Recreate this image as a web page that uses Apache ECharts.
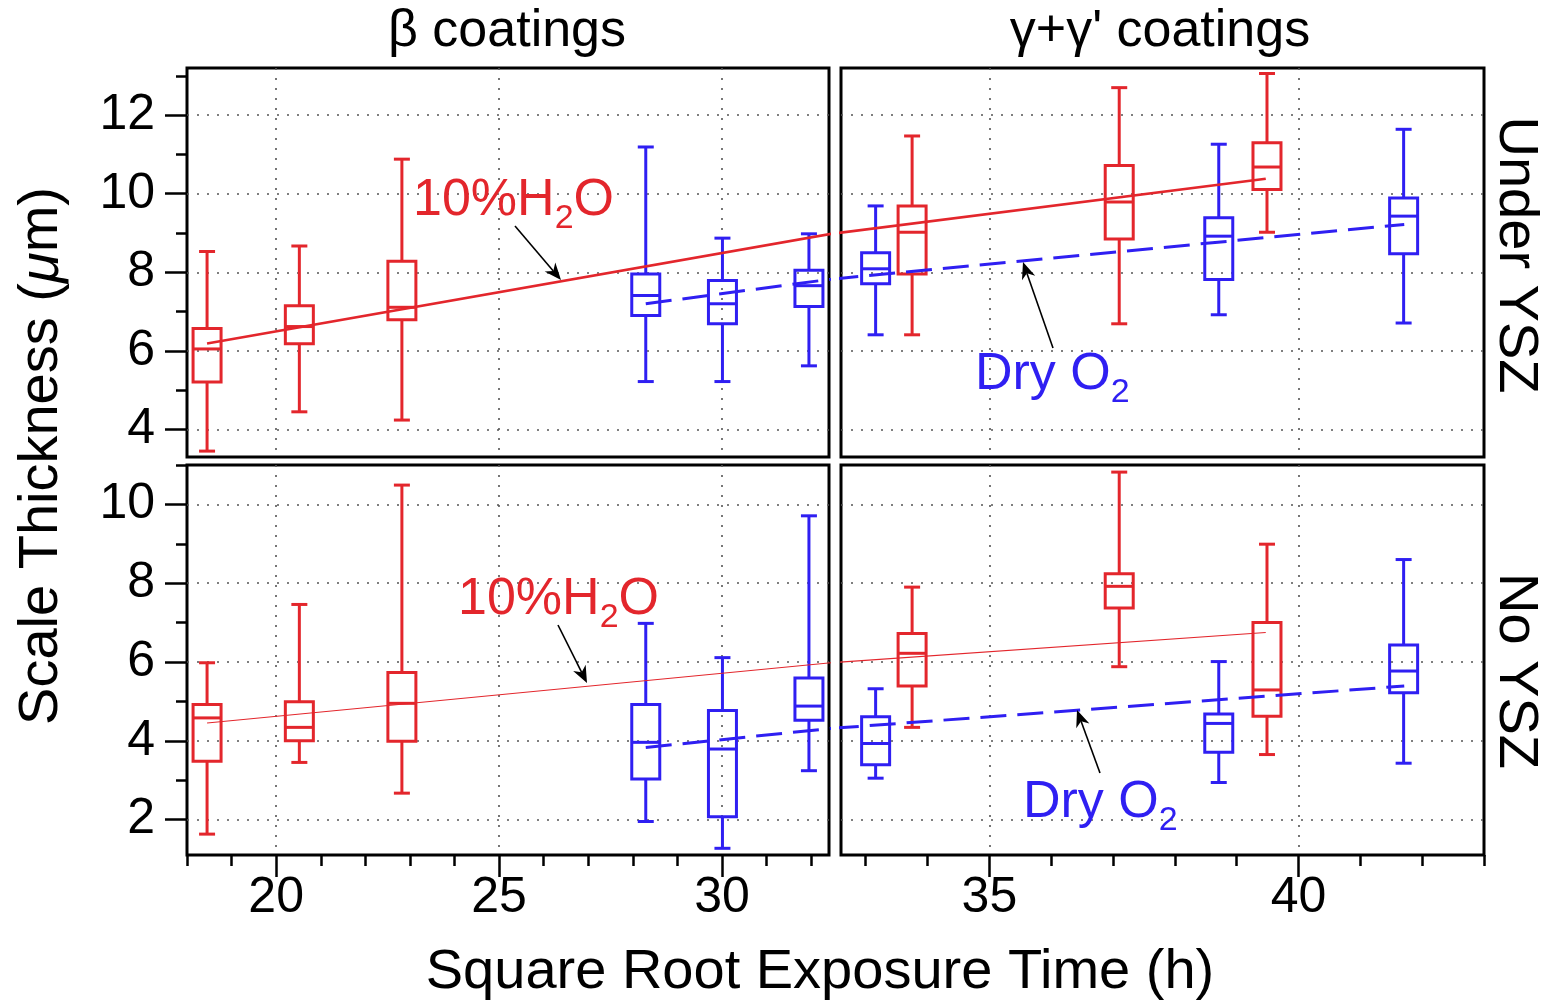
<!DOCTYPE html>
<html><head><meta charset="utf-8">
<script src="https://cdn.jsdelivr.net/npm/echarts@6/dist/echarts.min.js"></script>
<style>html,body{margin:0;padding:0;background:#fff}#c{width:1549px;height:1003px}</style>
</head><body><div id="c"></div>
<script>
const RED = '#e3262c', BLUE = '#2f1ff2';
const FONT = '"Liberation Sans", Arial, Helvetica, sans-serif';
// box values: [x, min, q1, median, q3, max]
const h2oUnderBeta  = [[18.45,3.45,5.21,6.05,6.57,8.53],[20.52,4.45,6.18,6.62,7.15,8.67],[22.82,4.24,6.79,7.11,8.28,10.88]];
const dryUnderBeta  = [[28.29,5.22,6.90,7.41,7.96,11.19],[30.01,5.22,6.69,7.20,7.79,8.87],[31.95,5.62,7.13,7.66,8.05,8.98]];
const h2oUnderGamma = [[33.75,6.41,7.96,9.02,9.69,11.47],[37.10,6.69,8.85,9.79,10.72,12.70],[39.49,9.02,10.11,10.68,11.30,13.06]];
const dryUnderGamma = [[33.16,6.41,7.71,8.09,8.50,9.69],[38.71,6.92,7.82,8.92,9.39,11.26],[41.70,6.71,8.47,9.43,9.89,11.64]];
const h2oNoBeta  = [[18.45,1.63,3.48,4.58,4.92,5.98],[20.52,3.45,4.00,4.34,4.99,7.46],[22.82,2.67,3.99,4.95,5.73,10.49]];
const dryNoBeta  = [[28.29,1.95,3.03,3.96,4.92,6.98],[30.01,1.27,2.07,3.79,4.77,6.11],[31.95,3.24,4.52,4.88,5.59,9.71]];
const h2oNoGamma = [[33.75,4.34,5.39,6.22,6.72,7.90],[37.10,5.88,7.37,7.92,8.24,10.82],[39.49,3.65,4.62,5.29,7.00,8.99]];
const dryNoGamma = [[33.16,3.05,3.39,3.93,4.61,5.32],[38.71,2.94,3.71,4.44,4.68,6.01],[41.70,3.43,5.22,5.77,6.43,8.60]];
// fitted trend lines (end points)
const h2oUnderFit = [[18.45,6.19],[39.47,10.38]];
const dryUnderFit = [[28.29,7.20],[41.71,9.22]];
const h2oNoFit    = [[18.45,4.45],[39.47,6.75]];
const dryNoFit    = [[28.29,3.83],[41.71,5.39]];
// axis ranges and ticks
const xBetaRange = [18, 32.4], xGammaRange = [32.6, 43];
const yUnderRange = [3.3, 13.2], yNoRange = [1.1, 11];
const xBetaMajor = [20, 25, 30], xBetaMinor = [18, 19, 21, 22, 23, 24, 26, 27, 28, 29, 31, 32];
const xGammaMajor = [35, 40], xGammaMinor = [33, 34, 36, 37, 38, 39, 41, 42, 43];
const yUnderMajor = [4, 6, 8, 10, 12], yUnderMinor = [5, 7, 9, 11, 13];
const yNoMajor = [2, 4, 6, 8, 10], yNoMinor = [3, 5, 7, 9, 11];

const chart = echarts.init(document.getElementById('c'), null, {renderer: 'canvas'});

const grids = [
  {left: 187, top: 68, width: 642, height: 389},
  {left: 841, top: 68, width: 643, height: 389},
  {left: 187, top: 465, width: 642, height: 390},
  {left: 841, top: 465, width: 643, height: 390}
].map(g => Object.assign(g, {show: true, borderColor: '#000', borderWidth: 3, backgroundColor: 'rgba(0,0,0,0)'}));

const splitStyle = {show: true, lineStyle: {color: '#555', width: 1.6, type: [2, 8]}};
function axisPair(dim, gi, range, major, minor, showTicks) {
  const pos = dim === 'x' ? 'bottom' : 'left';
  const main = {
    type: 'value', gridIndex: gi, min: range[0], max: range[1], position: pos,
    axisLine: {show: false},
    axisTick: {show: showTicks, customValues: major, length: 22, inside: false, lineStyle: {color: '#000', width: 2.5}},
    axisLabel: {show: showTicks, customValues: major, fontSize: 50, color: '#000', fontFamily: FONT,
      margin: dim === 'x' ? 18 : 32},
    splitLine: splitStyle, minorTick: {show: false}
  };
  const mnr = {
    type: 'value', gridIndex: gi, min: range[0], max: range[1], position: pos,
    axisLine: {show: false},
    axisTick: {show: showTicks, customValues: minor, length: 11, inside: false, lineStyle: {color: '#000', width: 2.5}},
    axisLabel: {show: false}, splitLine: {show: false}
  };
  return [main, mnr];
}
const xAxis = [].concat(
  axisPair('x', 0, xBetaRange, xBetaMajor, xBetaMinor, false),
  axisPair('x', 1, xGammaRange, xGammaMajor, xGammaMinor, false),
  axisPair('x', 2, xBetaRange, xBetaMajor, xBetaMinor, true),
  axisPair('x', 3, xGammaRange, xGammaMajor, xGammaMinor, true)
);
const yAxis = [].concat(
  axisPair('y', 0, yUnderRange, yUnderMajor, yUnderMinor, true),
  axisPair('y', 1, yUnderRange, yUnderMajor, yUnderMinor, false),
  axisPair('y', 2, yNoRange, yNoMajor, yNoMinor, true),
  axisPair('y', 3, yNoRange, yNoMajor, yNoMinor, false)
);

function boxSeries(data, color, gi) {
  return {
    type: 'custom', xAxisIndex: gi * 2, yAxisIndex: gi * 2, data: data, clip: false, silent: true, z: 3,
    encode: {x: 0, y: [1, 2, 3, 4, 5]},
    renderItem: function (params, api) {
      const x = api.value(0);
      const p = i => api.coord([x, api.value(i)]);
      const pMin = p(1), pQ1 = p(2), pMed = p(3), pQ3 = p(4), pMax = p(5);
      const cx = pMin[0], bw = 28, cw = 16;
      const st = {stroke: color, lineWidth: 3, fill: null};
      return {type: 'group', children: [
        {type: 'line', shape: {x1: cx, y1: pMax[1], x2: cx, y2: pQ3[1]}, style: st},
        {type: 'line', shape: {x1: cx, y1: pQ1[1], x2: cx, y2: pMin[1]}, style: st},
        {type: 'line', shape: {x1: cx - cw / 2, y1: pMax[1], x2: cx + cw / 2, y2: pMax[1]}, style: st},
        {type: 'line', shape: {x1: cx - cw / 2, y1: pMin[1], x2: cx + cw / 2, y2: pMin[1]}, style: st},
        {type: 'rect', shape: {x: cx - bw / 2, y: pQ3[1], width: bw, height: pQ1[1] - pQ3[1]}, style: st},
        {type: 'line', shape: {x1: cx - bw / 2, y1: pMed[1], x2: cx + bw / 2, y2: pMed[1]}, style: st}
      ]};
    }
  };
}
function fitSeries(data, color, gi, width, dashed) {
  return {
    type: 'line', xAxisIndex: gi * 2, yAxisIndex: gi * 2, data: data, showSymbol: false, symbol: 'none',
    clip: true, silent: true, z: 4,
    lineStyle: {color: color, width: width, type: dashed ? [26, 11] : 'solid'}
  };
}

const series = [
  fitSeries(h2oUnderFit, RED, 0, 2.6, false), fitSeries(h2oUnderFit, RED, 1, 2.6, false),
  fitSeries(dryUnderFit, BLUE, 0, 3, true), fitSeries(dryUnderFit, BLUE, 1, 3, true),
  fitSeries(h2oNoFit, RED, 2, 1.1, false), fitSeries(h2oNoFit, RED, 3, 1.1, false),
  fitSeries(dryNoFit, BLUE, 2, 3, true), fitSeries(dryNoFit, BLUE, 3, 3, true),
  boxSeries(h2oUnderBeta, RED, 0), boxSeries(dryUnderBeta, BLUE, 0),
  boxSeries(h2oUnderGamma, RED, 1), boxSeries(dryUnderGamma, BLUE, 1),
  boxSeries(h2oNoBeta, RED, 2), boxSeries(dryNoBeta, BLUE, 2),
  boxSeries(h2oNoGamma, RED, 3), boxSeries(dryNoGamma, BLUE, 3)
];

// text helpers
const mctx = document.createElement('canvas').getContext('2d');
function tw(str, fs) { mctx.font = fs + 'px ' + FONT; return mctx.measureText(str).width; }
function txt(str, x, y, fs, color, extra) {
  return Object.assign({type: 'text', x: x, y: y, silent: true, z: 10,
    style: {text: str, fontSize: fs, fontFamily: FONT, fill: color, align: 'left', verticalAlign: 'middle'}}, extra || {});
}
function chemLabel(parts, x, baseline, color) {
  // parts: [[text, isSub]]
  const els = []; let cx = x;
  parts.forEach(([s, sub]) => {
    const fs = sub ? 34 : 52;
    const bl = sub ? baseline + 12 : baseline;
    els.push(txt(s, cx, bl - 0.34 * fs, fs, color));
    cx += tw(s, fs);
  });
  return els;
}
function arrow(x1, y1, x2, y2) {
  const dx = x2 - x1, dy = y2 - y1, L = Math.hypot(dx, dy), ux = dx / L, uy = dy / L, nx = -uy, ny = ux;
  const hl = 17, hw = 7;
  const bx = x2 - ux * hl, by = y2 - uy * hl, mx = x2 - ux * hl * 0.7, my = y2 - uy * hl * 0.7;
  return [
    {type: 'line', silent: true, z: 10, shape: {x1: x1, y1: y1, x2: mx, y2: my}, style: {stroke: '#000', lineWidth: 1.6}},
    {type: 'polygon', silent: true, z: 10, shape: {points: [[x2, y2], [bx + nx * hw, by + ny * hw], [mx, my], [bx - nx * hw, by - ny * hw]]}, style: {fill: '#000'}}
  ];
}

const graphic = [].concat(
  [txt('β coatings', 507, 32, 52, '#000', {style: {text: 'β coatings', fontSize: 52, fontFamily: FONT, fill: '#000', align: 'center', verticalAlign: 'middle'}})],
  [txt('γ+γ\' coatings', 1160, 32, 52, '#000', {style: {text: 'γ+γ\' coatings', fontSize: 52, fontFamily: FONT, fill: '#000', align: 'center', verticalAlign: 'middle'}})],
  [{type: 'text', x: 820, y: 973, silent: true, z: 10, style: {text: 'Square Root Exposure Time (h)', fontSize: 56, fontFamily: FONT, fill: '#000', align: 'center', verticalAlign: 'middle'}}],
  [{type: 'text', x: 42, y: 456, rotation: Math.PI / 2, silent: true, z: 10,
    style: {text: 'Scale Thickness ({i|μ}m)', fontSize: 56, fontFamily: FONT, fill: '#000', align: 'center', verticalAlign: 'middle',
      rich: {i: {fontStyle: 'italic', fontSize: 56, fontFamily: FONT, fill: '#000'}}}}],
  [{type: 'text', x: 1515, y: 255, rotation: -Math.PI / 2, silent: true, z: 10, style: {text: 'Under YSZ', fontSize: 56, fontFamily: FONT, fill: '#000', align: 'center', verticalAlign: 'middle'}}],
  [{type: 'text', x: 1515, y: 671, rotation: -Math.PI / 2, silent: true, z: 10, style: {text: 'No YSZ', fontSize: 56, fontFamily: FONT, fill: '#000', align: 'center', verticalAlign: 'middle'}}],
  chemLabel([['10%H', false], ['2', true], ['O', false]], 413, 218, RED),
  chemLabel([['10%H', false], ['2', true], ['O', false]], 458, 617, RED),
  chemLabel([['Dry O', false], ['2', true]], 975, 392, BLUE),
  chemLabel([['Dry O', false], ['2', true]], 1023, 820, BLUE),
  arrow(515, 226, 561, 280),
  arrow(558, 625, 587, 683),
  arrow(1053, 348, 1023, 262),
  arrow(1100, 773, 1077, 710)
);

chart.setOption({
  animation: false,
  backgroundColor: '#fff',
  grid: grids,
  xAxis: xAxis,
  yAxis: yAxis,
  series: series,
  graphic: graphic
});
</script></body></html>
